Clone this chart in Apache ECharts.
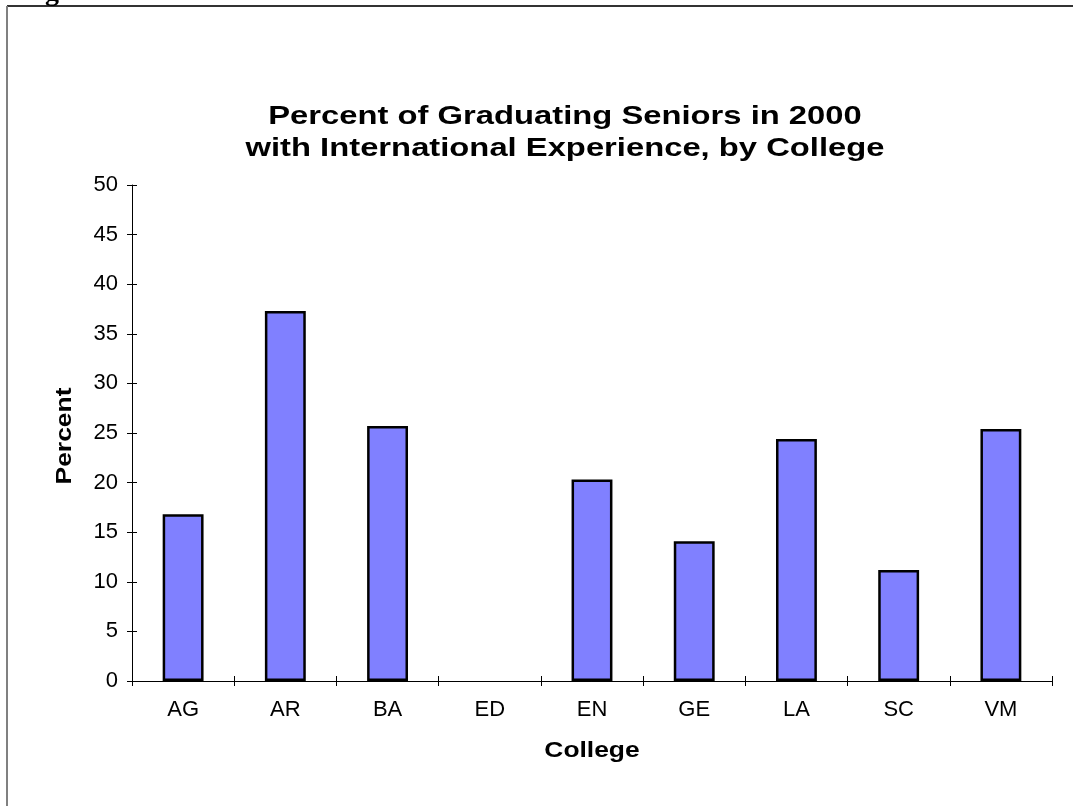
<!DOCTYPE html>
<html>
<head>
<meta charset="utf-8">
<script src="https://cdn.jsdelivr.net/npm/echarts@6/dist/echarts.min.js"></script>
<style>html,body{margin:0;padding:0;background:#fff}#c{width:1073px;height:806px}</style>
</head>
<body>
<div id="c"></div>
<script>
const categories = ['AG','AR','BA','ED','EN','GE','LA','SC','VM'];
const values = [16.8, 37.3, 25.7, 0, 20.3, 14.1, 24.4, 11.2, 25.4];
const yTicks = {min: 0, max: 50, interval: 5};
const titleLines = ['Percent of Graduating Seniors in 2000', 'with International Experience, by College'];
const xName = 'College';
const yName = 'Percent';

const chart = echarts.init(document.getElementById('c'), null, {renderer: 'canvas'});
const font = 'Liberation Sans, Arial, sans-serif';
const barData = values.map(v => v === 0 ? {value: v, itemStyle: {borderWidth: 0}} : v);
chart.setOption({
  animation: false,
  backgroundColor: '#fff',
  grid: {left: 132, right: 21, top: 185, bottom: 125},
  xAxis: [{
    type: 'category', data: categories,
    axisLine: {lineStyle: {color: '#000', width: 1}},
    axisTick: {show: true, length: 5, lineStyle: {color: '#000'}},
    axisLabel: {fontFamily: font, fontSize: 22, color: '#000', margin: 18}
  }, {
    type: 'category', data: categories, position: 'bottom',
    axisLine: {show: false},
    axisTick: {show: true, inside: true, length: 5, lineStyle: {color: '#000'}},
    axisLabel: {show: false}
  }],
  yAxis: [{
    type: 'value', min: yTicks.min, max: yTicks.max, interval: yTicks.interval,
    splitLine: {show: false},
    axisLine: {show: true, lineStyle: {color: '#000', width: 1}},
    axisTick: {show: true, length: 5, lineStyle: {color: '#000'}},
    axisLabel: {fontFamily: font, fontSize: 22, color: '#000', margin: 14}
  }, {
    type: 'value', min: yTicks.min, max: yTicks.max, interval: yTicks.interval, position: 'left',
    splitLine: {show: false},
    axisLine: {show: false},
    axisTick: {show: true, inside: true, length: 5, lineStyle: {color: '#000'}},
    axisLabel: {show: false}
  }],
  series: [{
    type: 'bar', data: barData, barWidth: '40%',
    itemStyle: {color: '#8080FF', borderColor: '#000', borderWidth: 2.5}
  }],
  graphic: [
    {type: 'line', shape: {x1: 7, y1: 6, x2: 1073, y2: 6}, style: {stroke: '#333', lineWidth: 2}},
    {type: 'line', shape: {x1: 7, y1: 6, x2: 7, y2: 806}, style: {stroke: '#808080', lineWidth: 2}},
    {type: 'text', x: 52, y: 7, style: {text: 'g', font: 'bold 28px "Liberation Serif", serif', fill: '#000', textAlign: 'center', textVerticalAlign: 'bottom'}},
    {type: 'text', x: 565, y: 117, scaleX: 1.26, style: {text: titleLines[0], font: 'bold 26px "Liberation Sans", Arial, sans-serif', fill: '#000', textAlign: 'center', textVerticalAlign: 'middle'}},
    {type: 'text', x: 565, y: 149, scaleX: 1.26, style: {text: titleLines[1], font: 'bold 26px "Liberation Sans", Arial, sans-serif', fill: '#000', textAlign: 'center', textVerticalAlign: 'middle'}},
    {type: 'text', x: 592, y: 751, scaleX: 1.2, style: {text: xName, font: 'bold 22px "Liberation Sans", Arial, sans-serif', fill: '#000', textAlign: 'center', textVerticalAlign: 'middle'}},
    {type: 'text', x: 65, y: 436, rotation: Math.PI / 2, scaleX: 1.2, style: {text: yName, font: 'bold 22px "Liberation Sans", Arial, sans-serif', fill: '#000', textAlign: 'center', textVerticalAlign: 'middle'}}
  ]
});
</script>
</body>
</html>
